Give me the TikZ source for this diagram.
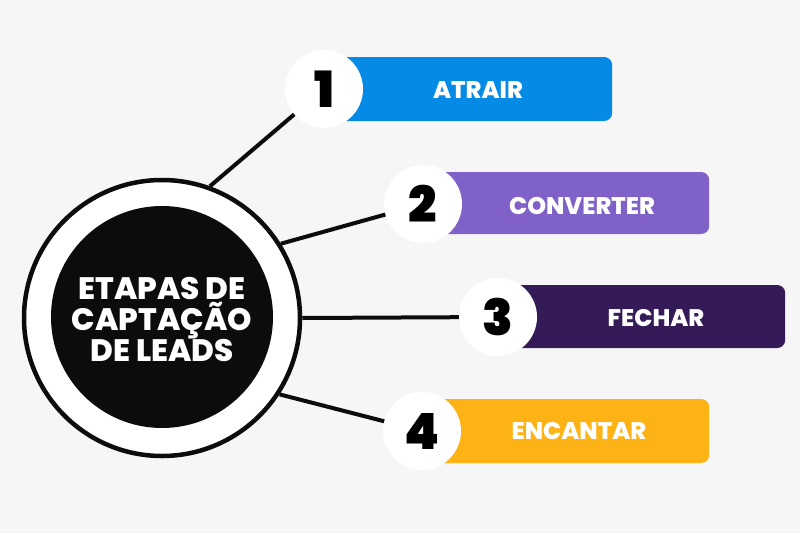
\documentclass[tikz,border=0pt]{standalone}
\usepackage{fontspec}
\setmainfont{Poppins}
\newfontfamily\heavy{Poppins}[UprightFont=* Black]
\newfontfamily\xbold{Poppins}[UprightFont=* ExtraBold]
\definecolor{bgc}{RGB}{246,246,246}
\definecolor{cblue}{RGB}{5,139,229}
\definecolor{cviolet}{RGB}{127,97,199}
\definecolor{cplum}{RGB}{52,26,86}
\definecolor{camber}{RGB}{253,178,22}
\definecolor{ink}{RGB}{12,12,12}
\pgfdeclarelayer{back}
\pgfdeclarelayer{wires}
\pgfsetlayers{back,wires,main}
\tikzset{
  bar/.style={rectangle, rounded corners=8pt, inner sep=0pt, anchor=west},
  numdisc/.style={circle, fill=white, inner sep=0pt, minimum size=78pt, font=\heavy\fontsize{50}{50}\selectfont, text=black},
  barlabel/.style={text=white, font=\xbold\fontsize{24}{24}\selectfont, inner sep=0pt},
  wire/.style={line width=4pt, draw=ink}
}
\begin{document}
\begin{tikzpicture}[x=1pt,y=-1pt]
\begin{pgfonlayer}{back}
\fill[bgc] (0,0) rectangle (800,533);
\end{pgfonlayer}
\useasboundingbox (0,0) rectangle (800,533);

% central hub
\node[circle, draw=ink, line width=4.5pt, fill=white, minimum size=276pt, inner sep=0pt] (ring) at (162,318) {};
\node[circle, fill=ink, minimum size=222pt, inner sep=0pt] (core) at (162,317) {};
\node[text=white, align=center, inner sep=0pt, font=\xbold\fontsize{31}{31}\selectfont] (title) at (162,320)
      {ETAPAS DE\\CAPTAÇÃO\\DE LEADS};

% bars
\node[bar, fill=cblue, minimum width=288pt, minimum height=64pt] (b1) at (324,89) {};
\node[bar, fill=cviolet, minimum width=286pt, minimum height=62pt] (b2) at (423,203) {};
\node[bar, fill=cplum, minimum width=287pt, minimum height=63pt] (b3) at (498,316.5) {};
\node[bar, fill=camber, minimum width=287pt, minimum height=64pt] (b4) at (422,431) {};

\node[barlabel] (t1) at (478,90) {ATRAIR};
\node[barlabel] (t2) at (582,206) {CONVERTER};
\node[barlabel] (t3) at (656,318) {FECHAR};
\node[barlabel] (t4) at (579,431) {ENCANTAR};

% number discs
\node[numdisc] (n1) at (324,89) {1};
\node[numdisc] (n2) at (423,204) {2};
\node[numdisc] (n3) at (498,317) {3};
\node[numdisc] (n4) at (422,431) {4};

% connectors
\begin{pgfonlayer}{wires}
\draw[wire] (ring.70) -- (n1.center);
\draw[wire] (ring.32) -- (n2.center);
\draw[wire] (ring.0) -- (n3.center);
\draw[wire] (ring.-33) -- (n4.center);
\end{pgfonlayer}
\end{tikzpicture}
\end{document}
